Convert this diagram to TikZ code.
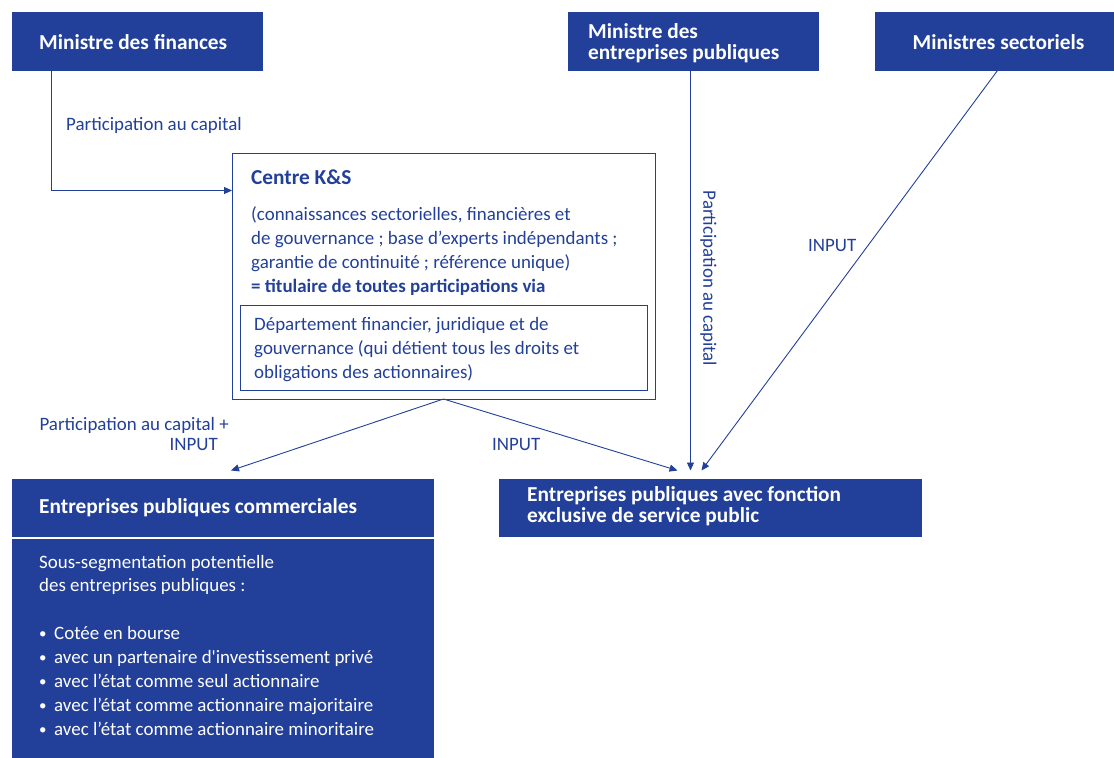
\documentclass[tikz,border=0pt]{standalone}
\usepackage{fontspec}
\setmainfont{Carlito}[Ligatures=TeXOff]
\usetikzlibrary{arrows.meta}
\definecolor{navy}{RGB}{34,64,154}
\newcommand\hdfont{\fontsize{21.4}{21}\selectfont\bfseries}
\newcommand\txfont{\fontsize{19}{24}\selectfont}
\newcommand\bul{\makebox[15bp][l]{\raisebox{1bp}{\fontsize{15}{15}\selectfont •}}}
\begin{document}
\begin{tikzpicture}[x=1bp,y=-1bp,
  box/.style={fill=navy, draw=none, inner sep=0, outer sep=0, anchor=north west},
  outl/.style={draw=navy, line width=1bp, inner sep=0, outer sep=0, anchor=north west},
  wt/.style={text=white, inner sep=0, anchor=base west, align=left},
  bt/.style={text=navy, inner sep=0, anchor=base west, align=left},
  conn/.style={draw=navy, line width=0.9bp, -{Triangle[length=8bp,width=7bp]}}
]
\useasboundingbox (0,0) rectangle (1114,758);
% boxes
\node[box, minimum width=251bp, minimum height=58bp] (fin) at (12,12.5) {};
\node[box, minimum width=251bp, minimum height=58bp] (mep) at (568,12.5) {};
\node[box, minimum width=239bp, minimum height=58bp] (ms) at (875,12.5) {};
\node[outl, minimum width=423bp, minimum height=246bp] (ks) at (232,153) {};
\node[outl, minimum width=407bp, minimum height=85bp] (dep) at (240,305) {};
\node[box, minimum width=422bp, minimum height=58bp] (ec) at (12,478.5) {};
\node[box, minimum width=422bp, minimum height=219bp] (ecb) at (12,539) {};
\node[box, minimum width=423bp, minimum height=58bp] (pub) at (499,478.5) {};
% texts (multi-line nodes: base = last line's baseline)
\node[wt, font=\hdfont] (fint) at (39,50) {Ministre des finances};
\node[wt, font=\hdfont] (mept) at (588,59.5) {Ministre des\\entreprises publiques};
\node[wt, font=\hdfont, anchor=base] (mst) at (998.5,50) {Ministres sectoriels};
\node[bt, font=\hdfont] (kst) at (251,184) {Centre K\&S};
\node[bt, font=\txfont] (ksp) at (251,292) {(connaissances sectorielles, financières et\\de gouvernance ; base d’experts indépendants ;\\garantie de continuité ; référence unique)\\\textbf{= titulaire de toutes participations via}};
\node[bt, font=\txfont] (dept) at (254,378) {Département financier, juridique et de\\gouvernance (qui détient tous les droits et\\obligations des actionnaires)};
\node[wt, font=\hdfont] (ect) at (39,513) {Entreprises publiques commerciales};
\node[wt, font=\txfont] (ecbt) at (39,735.5) {Sous-segmentation potentielle\\des entreprises publiques :\\[24bp]\bul Cotée en bourse\\\bul avec un partenaire d'investissement privé\\\bul avec l’état comme seul actionnaire\\\bul avec l’état comme actionnaire majoritaire\\\bul avec l’état comme actionnaire minoritaire};
\node[wt, font=\hdfont] (pubt) at (527,522) {Entreprises publiques avec fonction\\exclusive de service public};
% labels
\node[bt, font=\txfont] (l1) at (66,130) {Participation au capital};
\node[bt, font=\txfont, align=right, anchor=base east] (l2) at (229,450) {Participation au capital +\\[-4bp]INPUT\hspace*{11bp}};
\node[bt, font=\txfont] (l3) at (492,450) {INPUT};
\node[bt, font=\txfont] (l4) at (808,251) {INPUT};
\node[bt, font=\txfont, rotate=-90, anchor=center] (l5) at (708.5,278.5) {Participation au capital};
% connectors
\coordinate (tipc) at ([xshift=-20bp,yshift=8bp]pub.north);
\draw[conn] ([xshift=39bp]fin.south west) |- ([yshift=-37.5bp]ks.north west);
\draw[conn] (ks.south) -- ([xshift=8bp,yshift=8bp]ec.north);
\draw[conn] (ks.south) -- ([xshift=-33bp,yshift=8bp]pub.north);
\draw[conn] (mep.south -| tipc) -- (tipc);
\draw[conn] ([xshift=3bp]ms.south) -- ([xshift=-9bp,yshift=8bp]pub.north);
\end{tikzpicture}
\end{document}
